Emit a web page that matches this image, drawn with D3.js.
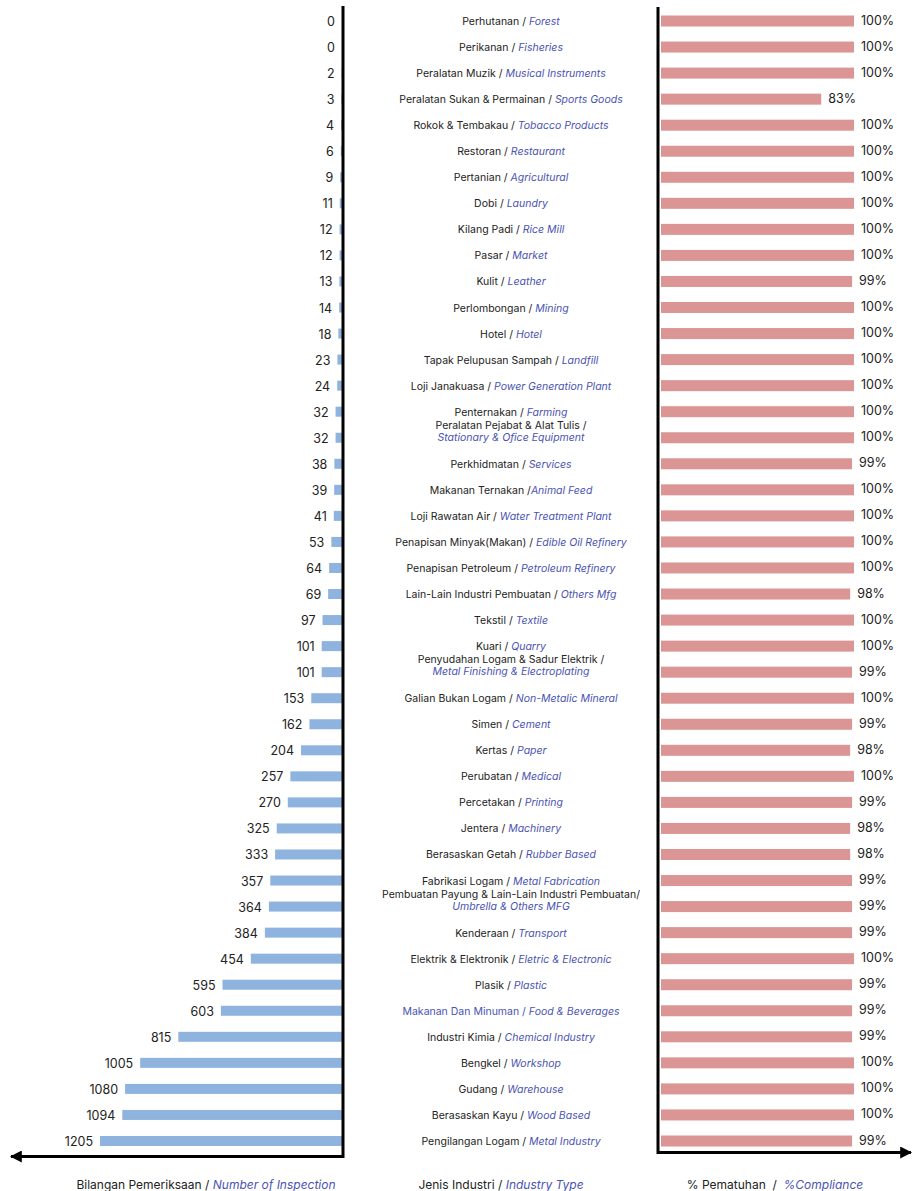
<!DOCTYPE html>
<html>
<head>
<meta charset="utf-8">
<script src="https://cdn.jsdelivr.net/npm/d3@7"></script>
<style>
  html, body { margin: 0; padding: 0; background: #ffffff; }
  svg { display: block; font-family: Inter, "Noto Sans", sans-serif; }
</style>
</head>
<body>
<svg id="chart" width="913" height="1191"></svg>
<script>
// Industry types (Malay / English)
const industryMs = [
  "Perhutanan", "Perikanan", "Peralatan Muzik", "Peralatan Sukan & Permainan",
  "Rokok & Tembakau", "Restoran", "Pertanian", "Dobi", "Kilang Padi", "Pasar",
  "Kulit", "Perlombongan", "Hotel", "Tapak Pelupusan Sampah", "Loji Janakuasa",
  "Penternakan", "Peralatan Pejabat & Alat Tulis", "Perkhidmatan", "Makanan Ternakan",
  "Loji Rawatan Air", "Penapisan Minyak(Makan)", "Penapisan Petroleum",
  "Lain-Lain Industri Pembuatan", "Tekstil", "Kuari", "Penyudahan Logam & Sadur Elektrik",
  "Galian Bukan Logam", "Simen", "Kertas", "Perubatan", "Percetakan", "Jentera",
  "Berasaskan Getah", "Fabrikasi Logam", "Pembuatan Payung & Lain-Lain Industri Pembuatan",
  "Kenderaan", "Elektrik & Elektronik", "Plasik", "Makanan Dan Minuman", "Industri Kimia",
  "Bengkel", "Gudang", "Berasaskan Kayu", "Pengilangan Logam"
];
const industryEn = [
  "Forest", "Fisheries", "Musical Instruments", "Sports Goods",
  "Tobacco Products", "Restaurant", "Agricultural", "Laundry", "Rice Mill", "Market",
  "Leather", "Mining", "Hotel", "Landfill", "Power Generation Plant",
  "Farming", "Stationary & Ofice Equipment", "Services", "Animal Feed",
  "Water Treatment Plant", "Edible Oil Refinery", "Petroleum Refinery",
  "Others Mfg", "Textile", "Quarry", "Metal Finishing & Electroplating",
  "Non-Metalic Mineral", "Cement", "Paper", "Medical", "Printing", "Machinery",
  "Rubber Based", "Metal Fabrication", "Umbrella & Others MFG",
  "Transport", "Eletric & Electronic", "Plastic", "Food & Beverages", "Chemical Industry",
  "Workshop", "Warehouse", "Wood Based", "Metal Industry"
];
// Number of inspections per industry
const inspections = [
  0, 0, 2, 3, 4, 6, 9, 11, 12, 12,
  13, 14, 18, 23, 24, 32, 32, 38, 39, 41,
  53, 64, 69, 97, 101, 101, 153, 162, 204, 257,
  270, 325, 333, 357, 364, 384, 454, 595, 603, 815,
  1005, 1080, 1094, 1205
];
// Compliance rate (%) per industry
const compliance = [
  100, 100, 100, 83, 100, 100, 100, 100, 100, 100,
  99, 100, 100, 100, 100, 100, 100, 99, 100, 100,
  100, 100, 98, 100, 100, 99, 100, 99, 98, 100,
  99, 98, 98, 99, 99, 99, 100, 99, 99, 99,
  100, 100, 100, 99
];
// Labels set on two lines, and the label written wholly in the accent colour
const twoLineLabels = ["Peralatan Pejabat & Alat Tulis", "Penyudahan Logam & Sadur Elektrik",
  "Pembuatan Payung & Lain-Lain Industri Pembuatan"];
const accentLabels = ["Makanan Dan Minuman"];

const axisTitles = {
  left: ["Bilangan Pemeriksaan / ", "Number of Inspection"],
  middle: ["Jenis Industri / ", "Industry Type"],
  right: ["% Pematuhan  /  ", "%Compliance"]
};

const BLUE = "#8eb3de", RED = "#da9594", ACCENT = "#4a53b3", INK = "#222222";

const svg = d3.select("#chart");
const rows = d3.range(industryMs.length);

const y = d3.scalePoint().domain(rows).range([21, 1141]);

const leftBase = 342, rightBase = 661;
const xInspect = d3.scaleLinear().domain([0, 1205]).range([leftBase, 100]);
const xComply = d3.scaleLinear().domain([0, 100]).range([rightBase, 854]);

// arrow markers
const defs = svg.append("defs");
defs.append("marker").attr("id", "arrow").attr("viewBox", "0 0 10 10")
  .attr("refX", 9).attr("refY", 5).attr("markerWidth", 4).attr("markerHeight", 4)
  .attr("markerUnits", "strokeWidth").attr("orient", "auto-start-reverse")
  .append("path").attr("d", "M0,0 L10,5 L0,10 z").attr("fill", "#000");

// Inspection bars (growing leftwards)
svg.append("g").selectAll("rect").data(rows).join("rect")
  .attr("x", i => xInspect(inspections[i]))
  .attr("y", i => y(i) - 5)
  .attr("width", i => leftBase - xInspect(inspections[i]))
  .attr("height", 10)
  .attr("fill", BLUE);

svg.append("g").selectAll("text").data(rows).join("text")
  .attr("x", i => xInspect(inspections[i]) - 7)
  .attr("y", i => y(i) + 5)
  .attr("text-anchor", "end")
  .attr("font-size", 12.5)
  .attr("fill", INK)
  .text(i => inspections[i]);

// Compliance bars
svg.append("g").selectAll("rect").data(rows).join("rect")
  .attr("x", rightBase)
  .attr("y", i => y(i) - 5.5)
  .attr("width", i => xComply(compliance[i]) - rightBase)
  .attr("height", 11)
  .attr("fill", RED);

svg.append("g").selectAll("text").data(rows).join("text")
  .attr("x", i => xComply(compliance[i]) + 7)
  .attr("y", i => y(i) + 3.5)
  .attr("text-anchor", "start")
  .attr("font-size", 12.5)
  .attr("fill", INK)
  .text(i => compliance[i] + "%");

// Industry labels
const labelX = 511;
const labels = svg.append("g").attr("font-size", 10.5).attr("text-anchor", "middle");
rows.forEach(i => {
  const ms = industryMs[i], en = industryEn[i];
  const msColor = accentLabels.includes(ms) ? ACCENT : INK;
  if (twoLineLabels.includes(ms)) {
    const last = ms.startsWith("Pembuatan Payung") ? "/" : " /";
    labels.append("text").attr("x", labelX).attr("y", y(i) - 9)
      .attr("fill", msColor).text(ms + last);
    labels.append("text").attr("x", labelX).attr("y", y(i) + 3)
      .attr("fill", ACCENT).attr("font-style", "italic").text(en);
  } else {
    const sep = ms === "Makanan Ternakan" ? " /" : " / ";
    const t = labels.append("text").attr("x", labelX).attr("y", y(i) + 4)
      .attr("xml:space", "preserve");
    t.append("tspan").attr("fill", msColor).text(ms + sep);
    t.append("tspan").attr("fill", ACCENT).attr("font-style", "italic").text(en);
  }
});

// Axes
const axes = svg.append("g").attr("stroke", "#000").attr("stroke-width", 3).attr("fill", "none");
axes.append("path").attr("d", `M343,6 V1156.5 H11`).attr("marker-end", "url(#arrow)")
  .attr("stroke-linejoin", "miter");
axes.append("path").attr("d", `M658,7 V1152.5 H911`).attr("marker-end", "url(#arrow)")
  .attr("stroke-linejoin", "miter");

// Axis titles
function title(x, parts) {
  const t = svg.append("text").attr("x", x).attr("y", 1189)
    .attr("text-anchor", "middle").attr("font-size", 12).attr("xml:space", "preserve");
  t.append("tspan").attr("fill", INK).text(parts[0]);
  t.append("tspan").attr("fill", ACCENT).attr("font-style", "italic").text(parts[1]);
}
title(206, axisTitles.left);
title(501, axisTitles.middle);
title(775, axisTitles.right);
</script>
</body>
</html>
